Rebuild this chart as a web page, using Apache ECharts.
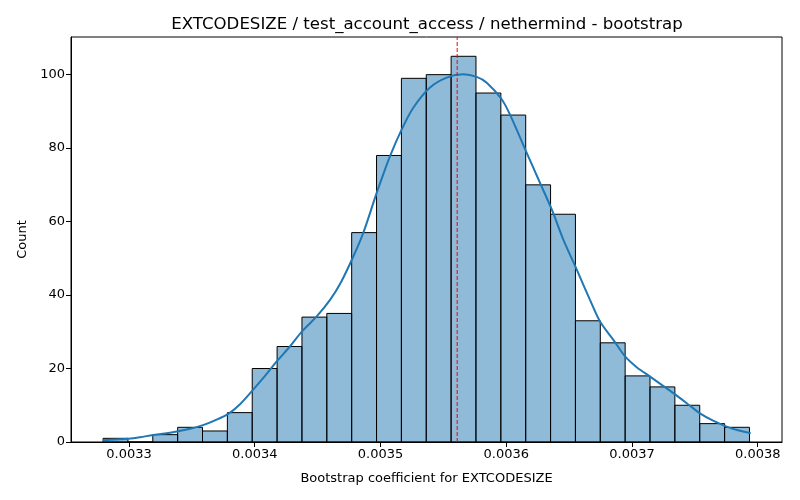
<!DOCTYPE html>
<html lang="en">
<head>
    <meta charset="UTF-8">
    <title>EXTCODESIZE bootstrap</title>
    <script src="https://cdn.jsdelivr.net/npm/echarts@6/dist/echarts.min.js"></script>
</head>
<body style="margin:0">
<div id="myChart" style="width: 800px;height: 500px"></div>
</body>
<script>
    // histogram bins
    var binStart = 0.0032794;
    var binWidth = 0.00001977;
    var counts = [1, 0, 2, 4, 3, 8, 20, 26, 34, 35, 57, 78, 99, 100, 105, 95, 89, 70, 62, 33, 27, 18, 15, 10, 5, 4];

    // kde curve
    var kdeX = [0.0032793, 0.0032889, 0.0032992, 0.0033087, 0.0033191, 0.0033286, 0.0033390, 0.0033485,
        0.0033589, 0.0033684, 0.0033787, 0.0033883, 0.0033986, 0.0034082, 0.0034177, 0.0034280,
        0.0034376, 0.0034493, 0.0034599, 0.0034686, 0.0034784, 0.0034863, 0.0034970, 0.0035076,
        0.0035169, 0.0035261, 0.0035394, 0.0035527, 0.0035659, 0.0035765, 0.0035845, 0.0035964,
        0.0036030, 0.0036163, 0.0036269, 0.0036362, 0.0036454, 0.0036561, 0.0036666, 0.0036746,
        0.0036852, 0.0036945, 0.0037040, 0.0037144, 0.0037239, 0.0037329, 0.0037438, 0.0037541,
        0.0037645, 0.0037753, 0.0037843, 0.0037944];
    var kdeY = [0.5, 0.7, 0.9, 1.3, 1.9, 2.3, 2.9, 3.6,
        4.6, 5.9, 7.6, 10.3, 14.2, 18.0, 22.0, 26.0,
        30.1, 34.2, 38.7, 43.5, 50.5, 56.9, 67.8, 77.8,
        85.1, 91.0, 96.5, 99.2, 100.1, 99.4, 97.8, 93.3,
        89.1, 78.7, 70.5, 63.3, 55.1, 46.9, 38.7, 32.8,
        27.8, 23.3, 20.3, 17.8, 15.5, 13.3, 10.5, 7.8,
        5.8, 4.2, 3.2, 2.4];

    var estimate = 0.003561;
    var yMax = 110.25;
    var xTicks = [0.0033, 0.0034, 0.0035, 0.0036, 0.0037, 0.0038];
    var yTicks = [0, 20, 40, 60, 80, 100];

    var bins = counts.map(function (c, i) {
        return [binStart + i * binWidth, binStart + (i + 1) * binWidth, c];
    });
    var kde = kdeX.map(function (x, i) {
        return [x, kdeY[i]];
    });

    var font = 'DejaVu Sans';
    var myChart = echarts.init(document.getElementById('myChart'));
    myChart.setOption({
        animation: false,
        title: {
            text: 'EXTCODESIZE / test_account_access / nethermind - bootstrap',
            left: 422,
            top: 11,
            textAlign: 'center',
            textStyle: {fontFamily: font, fontSize: 16.6, fontWeight: 'normal', color: '#000'}
        },
        grid: {
            left: 71, right: 18, top: 37, bottom: 58,
            show: true, borderColor: '#000', borderWidth: 1
        },
        xAxis: {
            type: 'value',
            min: 0.0032539,
            max: 0.0038193,
            name: 'Bootstrap coefficient for EXTCODESIZE',
            nameLocation: 'middle',
            nameGap: 30,
            nameTextStyle: {fontFamily: font, fontSize: 13, color: '#000'},
            splitLine: {show: false},
            axisLine: {lineStyle: {color: '#000'}},
            axisTick: {customValues: xTicks, length: 5, lineStyle: {color: '#000'}},
            axisLabel: {
                customValues: xTicks,
                fontFamily: font, fontSize: 13, color: '#000', margin: 6,
                formatter: function (v) { return v.toFixed(4); }
            }
        },
        yAxis: {
            type: 'value',
            min: 0,
            max: yMax,
            name: 'Count',
            nameLocation: 'middle',
            nameGap: 42,
            nameTextStyle: {fontFamily: font, fontSize: 13, color: '#000'},
            splitLine: {show: false},
            axisLine: {show: true, lineStyle: {color: '#000'}},
            axisTick: {show: true, customValues: yTicks, length: 5, lineStyle: {color: '#000'}},
            axisLabel: {customValues: yTicks, fontFamily: font, fontSize: 13, color: '#000', margin: 6}
        },
        series: [{
            type: 'custom',
            data: bins,
            encode: {x: [0, 1], y: 2},
            renderItem: function (params, api) {
                var p0 = api.coord([api.value(0), api.value(2)]);
                var p1 = api.coord([api.value(1), 0]);
                return {
                    type: 'rect',
                    shape: {x: p0[0], y: p0[1], width: p1[0] - p0[0], height: p1[1] - p0[1]},
                    style: {fill: 'rgba(31,119,180,0.5)', stroke: '#000', lineWidth: 1}
                };
            },
            z: 2
        }, {
            type: 'line',
            data: kde,
            smooth: 0.3,
            showSymbol: false,
            lineStyle: {color: '#1f77b4', width: 2},
            z: 3
        }, {
            type: 'line',
            data: [[estimate, 0], [estimate, yMax]],
            showSymbol: false,
            lineStyle: {color: 'red', type: [4, 2], width: 1},
            z: 4
        }]
    });
</script>
</html>
